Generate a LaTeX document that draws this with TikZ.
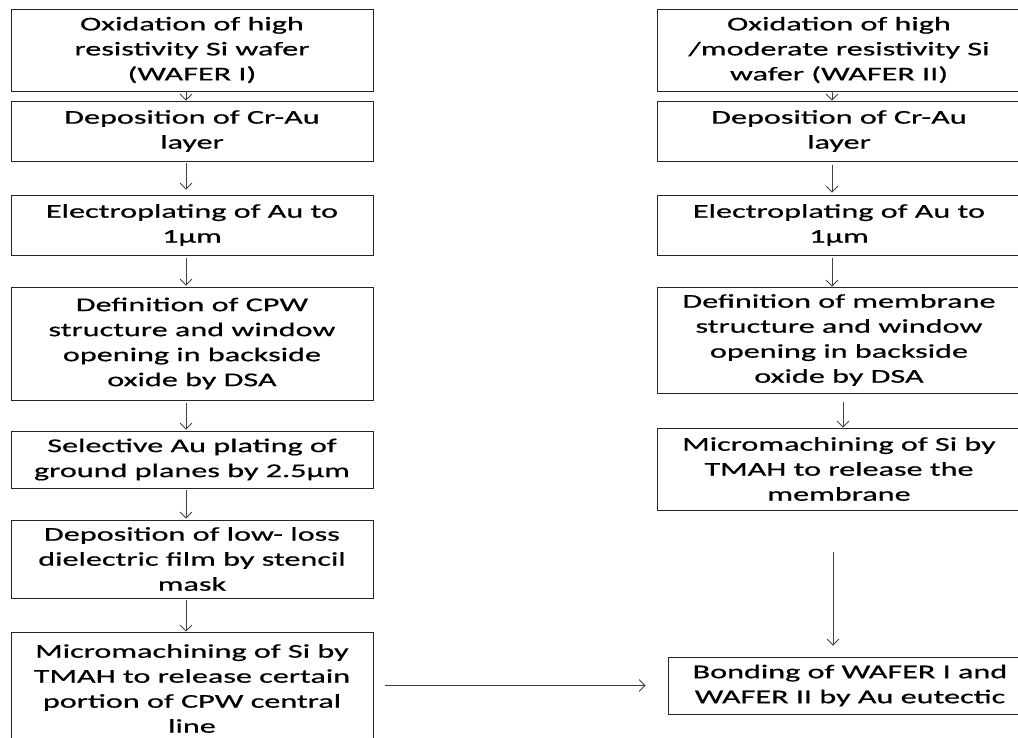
\documentclass[tikz,border=0pt]{standalone}
\usepackage{fontspec}
\setmainfont{Carlito}[FakeStretch=1.65,FakeBold=0.6]
\usetikzlibrary{arrows.meta,calc}
\begin{document}
\begin{tikzpicture}[x=1pt,y=-1pt]
\tikzset{
  box/.style={draw=black!85, line width=0.8pt, align=center, inner sep=0pt,
    font=\fontsize{19.5}{25}\selectfont},
  arr/.style={draw=black!75, line width=0.8pt, -{Straight Barb[length=6pt,width=12pt]}}
}
\useasboundingbox (0,0) rectangle (1018,738);
\clip (0,0) rectangle (1018,738);
% left column
\node[box, minimum width=362pt, minimum height=82pt] (L1) at (192,50)
  {Oxidation of high\\resistivity Si wafer\\(WAFER I)};
\node[box, minimum width=362pt, minimum height=60pt] (L2) at (192,131)
  {Deposition of Cr-Au\\layer};
\node[box, minimum width=362pt, minimum height=60pt] (L3) at (192,225)
  {Electroplating of Au to\\1µm};
\node[box, minimum width=362pt, minimum height=113pt] (L4) at (192,343.5)
  {Definition of CPW\\structure and window\\opening in backside\\oxide by DSA};
\node[box, minimum width=362pt, minimum height=57pt] (L5) at (192,459.5)
  {Selective Au plating of\\ground planes by 2.5µm};
\node[box, minimum width=362pt, minimum height=78pt] (L6) at (192,559)
  {Deposition of low- loss\\dielectric film by stencil\\mask};
\node[box, minimum width=362pt, minimum height=113pt] (L7) at (192,688.5)
  {Micromachining of Si by\\TMAH to release certain\\portion of CPW central\\line};
% right column
\node[box, minimum width=364pt, minimum height=82pt] (R1) at (839,50)
  {Oxidation of high\\/moderate resistivity Si\\wafer (WAFER II)};
\node[box, minimum width=364pt, minimum height=60pt] (R2) at (839,131)
  {Deposition of Cr-Au\\layer};
\node[box, minimum width=364pt, minimum height=60pt] (R3) at (839,225)
  {Electroplating of Au to\\1µm};
\node[box, minimum width=364pt, minimum height=106pt] (R4) at (839,340)
  {Definition of membrane\\structure and window\\opening in backside\\oxide by DSA};
\node[box, minimum width=364pt, minimum height=82pt] (R5) at (839,469)
  {Micromachining of Si by\\TMAH to release the\\membrane};
\node[box, minimum width=364pt, minimum height=57pt] (R6) at (850,685.5)
  {Bonding of WAFER I and\\WAFER II by Au eutectic};
% left arrows
\draw[arr] ([xshift=-6pt]L1.south) -- ([xshift=-6pt]L2.north);
\draw[arr, shorten <=2pt, shorten >=5pt] ([xshift=-6pt]L2.south) -- ([xshift=-6pt]L3.north);
\draw[arr, shorten <=3pt, shorten >=1pt] ([xshift=-6pt]L3.south) -- ([xshift=-6pt]L4.north);
\draw[arr, shorten <=3pt, shorten >=1pt] ([xshift=-6pt]L4.south) -- ([xshift=-6pt]L5.north);
\draw[arr, shorten <=2pt, shorten >=1pt] ([xshift=-6pt]L5.south) -- ([xshift=-6pt]L6.north);
\draw[arr, shorten <=2pt] ([xshift=-6pt]L6.south) -- ([xshift=-6pt]L7.north);
% right arrows
\draw[arr] ([xshift=-7pt]R1.south) -- ([xshift=-7pt]R2.north);
\draw[arr, shorten <=4pt, shorten >=2pt] ([xshift=-7pt]R2.south) -- ([xshift=-7pt]R3.north);
\draw[arr, shorten <=3pt] ([xshift=-7pt]R3.south) -- ([xshift=-7pt]R4.north);
\draw[arr, shorten <=9pt] ([xshift=4pt]R4.south) -- ([xshift=4pt]R5.north);
\draw[arr, shorten <=42pt, shorten >=11pt] ([xshift=-6pt]R5.south) -- ([xshift=-6pt]R5.south |- R6.north);
% horizontal arrow
\draw[arr, shorten <=12pt, shorten >=22pt] (R6.west -| L7.east) -- (R6.west);
\end{tikzpicture}
\end{document}
